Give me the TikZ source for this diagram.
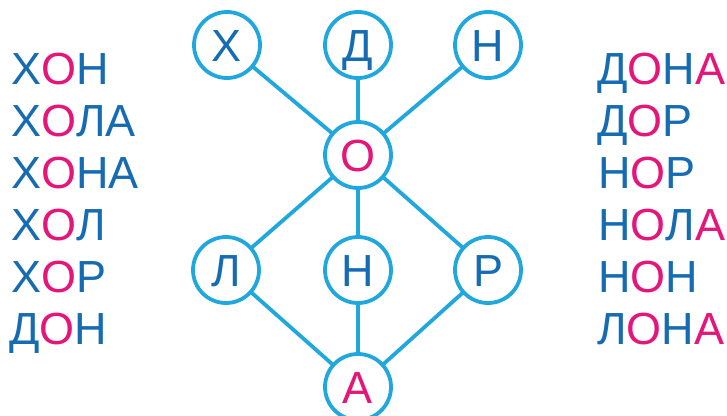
\documentclass[tikz,border=0pt]{standalone}
\usepackage{fontspec}
\setmainfont{Liberation Sans}
\definecolor{txtblue}{RGB}{22,108,178}
\definecolor{pinkc}{RGB}{228,22,122}
\definecolor{cyanc}{RGB}{32,168,222}
\newcommand{\pk}[1]{\textcolor{pinkc}{#1}}
\begin{document}
\begin{tikzpicture}[x=1pt,y=-1pt,
  letter/.style={circle,draw=cyanc,line width=3.8pt,fill=white,minimum size=66pt,
    inner sep=0pt,text height=32pt,text depth=0pt,font=\fontsize{45}{45}\selectfont,text=txtblue},
  word/.style={anchor=base west,inner sep=0pt,font=\fontsize{45}{45}\selectfont,text=txtblue},
  link/.style={draw=cyanc,line width=3.8pt}]
\useasboundingbox (0,0) rectangle (727,415);
\clip (0,0) rectangle (727,415);
\fill[white] (0,0) rectangle (727,415);
% coordinates of circles
\coordinate (cX) at (227,45);
\coordinate (cD) at (358,45);
\coordinate (cN1) at (488,45);
\coordinate (cO) at (358,155);
\coordinate (cL) at (226,270);
\coordinate (cN2) at (358,270);
\coordinate (cR) at (488,270);
\coordinate (cA) at (358,387);
% links
\draw[link] (cX) -- (cO);
\draw[link] (cD) -- (cO);
\draw[link] (cN1) -- (cO);
\draw[link] (cO) -- (cL);
\draw[link] (cO) -- (cN2);
\draw[link] (cO) -- (cR);
\draw[link] (cL) -- (cA);
\draw[link] (cN2) -- (cA);
\draw[link] (cR) -- (cA);
% circles
\node[letter] (X) at (cX) {Х};
\node[letter] (D) at (cD) {Д};
\node[letter] (N1) at (cN1) {Н};
\node[letter,text=pinkc] (O) at (cO) {О};
\node[letter] (L) at (cL) {Л};
\node[letter] (N2) at (cN2) {Н};
\node[letter] (R) at (cR) {Р};
\node[letter,text=pinkc] (A) at (cA) {А};
% left words
\node[word] (w1) at (11,84) {Х\pk{О}Н};
\node[word] (w2) at (11,136) {Х\pk{О}ЛА};
\node[word] (w3) at (11,188) {Х\pk{О}НА};
\node[word] (w4) at (11,240) {Х\pk{О}Л};
\node[word] (w5) at (11,292) {Х\pk{О}Р};
\node[word] (w6) at (9,344) {Д\pk{О}Н};
% right words
\node[word] (r1) at (597,84) {Д\pk{О}Н\pk{А}};
\node[word] (r2) at (597,136) {Д\pk{О}Р};
\node[word] (r3) at (598,188) {Н\pk{О}Р};
\node[word] (r4) at (598,240) {Н\pk{О}Л\pk{А}};
\node[word] (r5) at (598,292) {Н\pk{О}Н};
\node[word] (r6) at (597,344) {Л\pk{О}Н\pk{А}};
\end{tikzpicture}
\end{document}
